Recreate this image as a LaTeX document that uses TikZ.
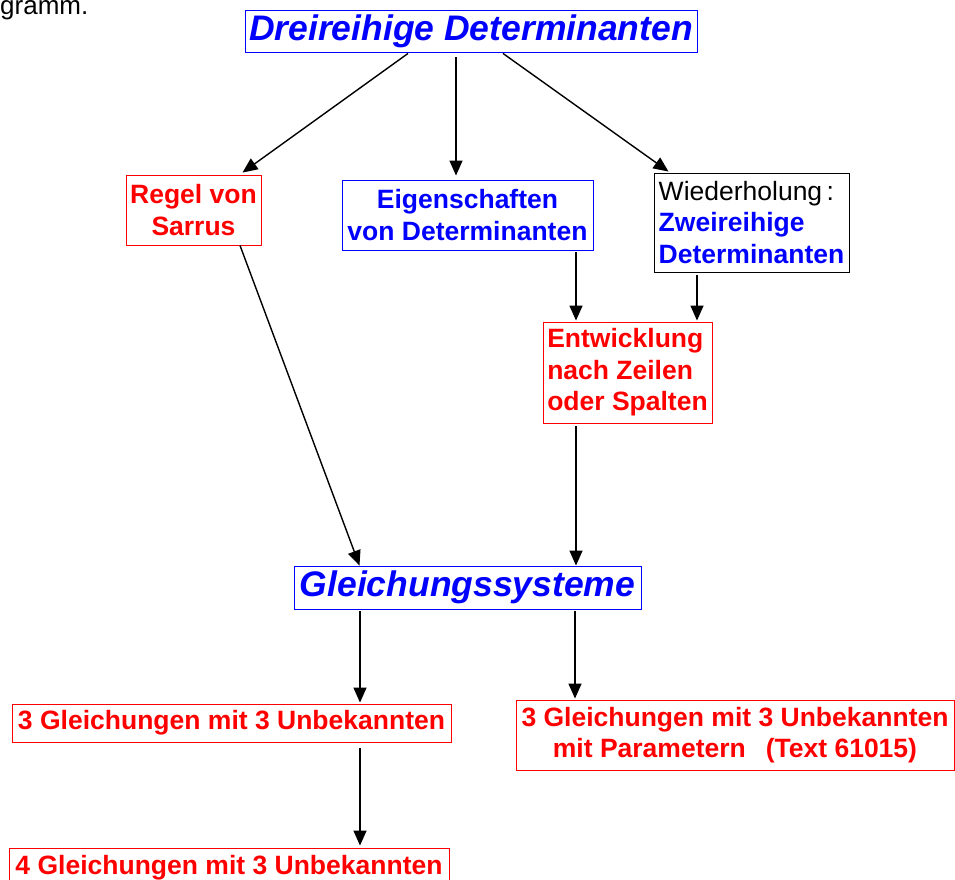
\documentclass[tikz,border=0pt]{standalone}
\usepackage{fontspec}
\setmainfont{Liberation Sans}
\usetikzlibrary{arrows.meta,positioning}
\definecolor{hblue}{RGB}{0,0,255}
\definecolor{hred}{RGB}{255,0,0}

\begin{document}
\begin{tikzpicture}[x=1pt,y=-1pt,
  box/.style={draw,line width=0.9pt,inner sep=0pt,align=center,
    font=\fontsize{26.5}{31.5}\selectfont\bfseries},
  redbox/.style={box,draw=hred,text=hred},
  bluebox/.style={box,draw=hblue,text=hblue},
  headbox/.style={bluebox,font=\fontsize{35.5}{40}\selectfont\bfseries\itshape},
  arr/.style={-{Triangle[length=15pt,width=13pt]},line width=1.4pt}
]
\useasboundingbox (0,0) rectangle (955,879);
\node[anchor=base west,inner sep=0pt,font=\fontsize{26}{30}\selectfont]
  (intro) at (0,14) {gramm.};

\node[headbox,minimum width=452pt,minimum height=42pt] (title) at (471,31)
  {Dreireihige Determinanten};
\node[redbox,minimum width=135pt,minimum height=70pt] (sarrus) at (193.5,210)
  {Regel von\\Sarrus};
\node[bluebox,minimum width=251pt,minimum height=70pt] (eigen) at (467.5,215)
  {Eigenschaften\\von Determinanten};
\node[box,draw=black,align=left,minimum width=195pt,minimum height=99pt]
  (wieder) at (751.5,222.5)
  {\mdseries Wiederholung\,:\\\textcolor{hblue}{Zweireihige}\\
   \textcolor{hblue}{Determinanten}};
\node[redbox,align=left,minimum width=169pt,minimum height=101pt]
  (entw) at (627.5,372.5) {Entwicklung\\nach Zeilen\\oder Spalten};
\node[headbox,minimum width=347pt,minimum height=43pt] (gls) at (467.5,587.5)
  {Gleichungssysteme};
\node[redbox,minimum width=439pt,minimum height=38pt] (gl3) at (231.5,723)
  {3 Gleichungen mit 3 Unbekannten};
\node[redbox,minimum width=438pt,minimum height=70pt] (glpar) at (735,735)
  {3 Gleichungen mit 3 Unbekannten\\mit Parametern\hspace{20pt}(Text 61015)};
\node[redbox,minimum width=440pt,minimum height=40pt] (gl4) at (229,868)
  {4 Gleichungen mit 3 Unbekannten};

% Pfeile
\draw[arr] ([xshift=-63pt,yshift=-1pt]title.south)
  -- ([xshift=49pt,yshift=2pt]sarrus.north);
\draw[arr] ([xshift=-15pt,yshift=-5pt]title.south)
  -- ([xshift=-11.5pt,yshift=4pt]eigen.north);
\draw[arr] ([xshift=32pt,yshift=-1pt]title.south)
  -- ([xshift=-83pt,yshift=1pt]wieder.north);
\draw[arr] ([xshift=46.5pt]sarrus.south) -- ([xshift=-108pt]gls.north);
\draw[arr] ([xshift=108.5pt,yshift=-2pt]eigen.south)
  -- ([xshift=-51.5pt,yshift=1pt]entw.north);
\draw[arr] ([xshift=-54.5pt,yshift=-3pt]wieder.south)
  -- ([xshift=69.5pt,yshift=1pt]entw.north);
\draw[arr] ([xshift=-51.5pt,yshift=-3pt]entw.south)
  -- ([xshift=108.5pt]gls.north);
\draw[arr] ([xshift=-107.5pt,yshift=-2pt]gls.south)
  -- ([xshift=128.5pt,yshift=1pt]gl3.north);
\draw[arr] ([xshift=107.5pt,yshift=-2pt]gls.south)
  -- ([xshift=-160pt,yshift=1pt]glpar.north);
\draw[arr] ([xshift=128.5pt,yshift=-6pt]gl3.south)
  -- ([xshift=131pt,yshift=2pt]gl4.north);
\end{tikzpicture}
\end{document}
